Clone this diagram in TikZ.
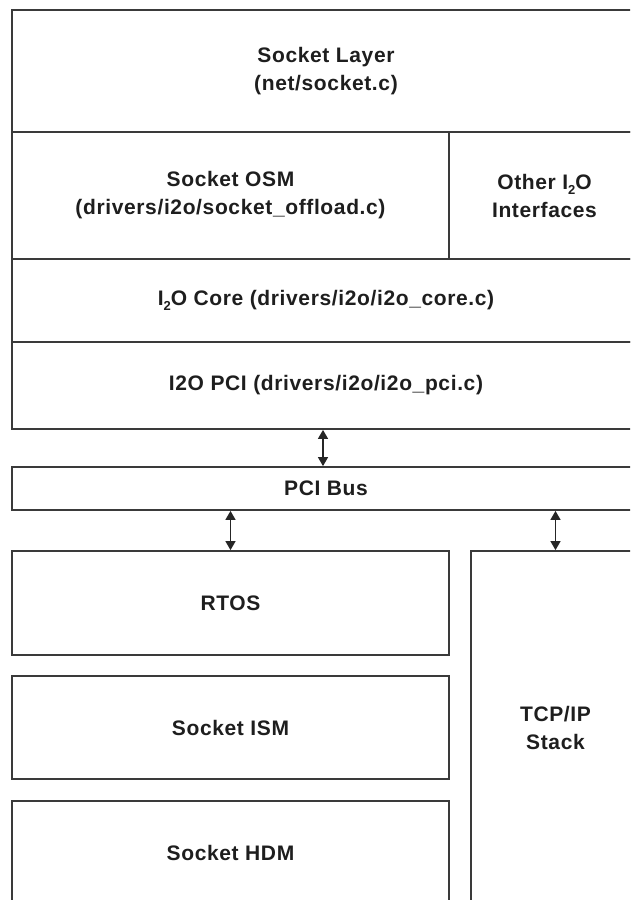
\documentclass[tikz,border=0pt]{standalone}
\usepackage{fontspec}
\setmainfont{Liberation Sans}[LetterSpace=3]
\usetikzlibrary{arrows.meta}
\definecolor{linec}{HTML}{3A3A3A}
\definecolor{textc}{HTML}{1E1E1E}
% lowered subscript two, as in I2O
\newcommand{\subtwo}{\raisebox{-5pt}{\fontsize{13}{13}\selectfont 2}}
\tikzset{
  layerbox/.style={draw=linec, line width=1.8pt, inner sep=0pt, align=center,
    text=textc, font=\bfseries\fontsize{21}{28}\selectfont},
  busarrow/.style={draw=black!85, line width=1.4pt,
    {Triangle[length=9pt,width=10pt]}-{Triangle[length=9pt,width=10pt]}}
}
\begin{document}
\begin{tikzpicture}[x=1pt,y=-1pt]
\useasboundingbox (0,0) rectangle (630,900);
\clip (0,0) rectangle (630,900);
\fill[white] (0,0) rectangle (630,900);

% host-side I2O stack
\node[layerbox, minimum width=628pt, minimum height=122pt] (socklayer) at (326,71)
  {Socket Layer\\(net/socket.c)};
\node[layerbox, minimum width=437pt, minimum height=127pt] (osm) at (230.5,195.5)
  {Socket OSM\\(drivers/i2o/socket\_offload.c)};
\node[layerbox, minimum width=191pt, minimum height=127pt] (other) at (544.5,195.5)
  {Other I\subtwo O\\Interfaces};
\node[layerbox, minimum width=628pt, minimum height=83pt] (core) at (326,300.5)
  {I\subtwo O Core (drivers/i2o/i2o\_core.c)};
\node[layerbox, minimum width=628pt, minimum height=87pt] (i2opci) at (326,385.5)
  {I2O PCI (drivers/i2o/i2o\_pci.c)};

% bus
\node[layerbox, minimum width=628pt, minimum height=43pt] (pcibus) at (326,488.5)
  {PCI Bus};

% IOP side
\node[layerbox, minimum width=437pt, minimum height=104pt] (rtos) at (230.5,603)
  {RTOS};
\node[layerbox, minimum width=437pt, minimum height=103pt] (ism) at (230.5,727.5)
  {Socket ISM};
\node[layerbox, minimum width=437pt, minimum height=104pt] (hdm) at (230.5,853)
  {Socket HDM};
\node[layerbox, minimum width=169pt, minimum height=354pt] (tcp) at (555.5,728)
  {TCP/IP\\Stack};

% connections to the bus
\draw[busarrow] ([xshift=-3pt]i2opci.south) -- ([xshift=-3pt]pcibus.north);
\draw[busarrow] (rtos.north |- pcibus.south) -- (rtos.north);
\draw[busarrow] (tcp.north |- pcibus.south) -- (tcp.north);
\end{tikzpicture}
\end{document}
